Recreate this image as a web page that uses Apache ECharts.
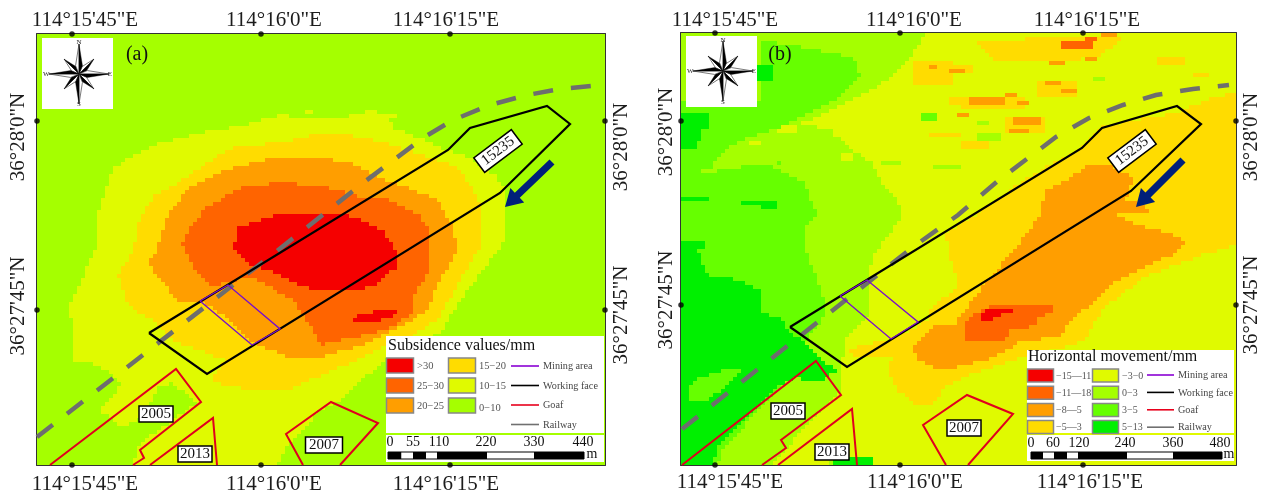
<!DOCTYPE html>
<html><head><meta charset="utf-8">
<style>html,body{margin:0;padding:0;background:#fff}#c{width:1266px;height:493px}</style>
<script src="https://cdn.jsdelivr.net/npm/echarts@6/dist/echarts.min.js"></script></head>
<body><div id="c"></div>
<script>
// Map units: 1 unit from the north-west corner of each map frame, y grows southward.
const lonLabels = ['114°15\'45"E','114°16\'0"E','114°16\'15"E'];
const latLabels = ['36°28\'0"N','36°27\'45"N'];
const aLonTicks = [35,224,413], aLatTicks = [87,276];
const bLonTicks = [34,219,402], bLatTicks = [88,272];
// Where the printed graticule captions sit along each side of the frames
const aLonCaptionsTop=[48,237,409], aLonCaptionsBottom=[48,237,409], aLatCaptionsLeft=[103,272], aLatCaptionsRight=[113,281];
const bLonCaptionsTop=[44,233,406], bLonCaptionsBottom=[49,234,409], bLatCaptionsLeft=[99,267], bLatCaptionsRight=[104,272];

// Class colours
const RED='#F50000',ORED='#FF6400',ORANGE='#FF9E00',YELLOW='#FFDC00',YG='#E0FA00',LIME='#A5FF00',GRN='#66FF00',DEEP='#00F000';

// Panel (a): subsidence class boundaries
const a10to15=[[58,216],[61,179],[75,136],[90,124],[126,108],[163,99],[203,92],[226,86],[246,81],[283,86],[308,83],[330,79],[353,83],[356,94],[383,104],[408,116],[430,123],[460,143],[466,153],[467,199],[466,209],[456,222],[436,249],[420,272],[403,299],[383,311],[350,326],[320,349],[303,366],[283,376],[266,396],[248,416],[241,431],[96,431],[103,409],[160,369],[136,349],[123,352],[100,389],[83,391],[63,376],[86,349],[76,342],[63,332],[38,326],[33,272]];
const a15to20=[[96,216],[103,183],[116,163],[150,143],[180,123],[196,114],[246,108],[283,99],[326,103],[363,113],[420,133],[430,146],[440,163],[446,183],[446,209],[435,226],[416,259],[400,286],[376,302],[349,312],[316,328],[283,342],[256,354],[213,356],[173,348],[188,326],[168,318],[140,309],[120,289],[91,272],[81,242]];
const a20to25=[[120,216],[130,183],[150,156],[190,136],[230,126],[283,123],[313,129],[340,143],[376,156],[401,166],[416,193],[420,216],[415,226],[403,246],[390,276],[376,286],[336,307],[283,324],[250,322],[216,309],[193,286],[163,267],[140,266],[110,229]];
const a25to30=[[143,216],[153,193],[170,173],[206,153],[240,149],[283,151],[323,163],[353,166],[380,179],[390,193],[393,212],[390,239],[375,266],[375,279],[356,292],[336,299],[283,311],[270,286],[256,266],[213,242],[176,252],[156,232],[145,209]];
const aOver30=[[196,216],[201,194],[230,183],[253,178],[283,179],[320,183],[346,196],[358,216],[361,232],[338,251],[316,257],[283,256],[263,252],[240,239],[210,229],[193,209]];
const aOver30Island=[[315,284],[326,279],[346,277],[348,275],[358,276],[361,281],[340,287],[316,289]];
const aYgPatches=[[225,85,8,6],[240,80,6,8],[270,76,6,5],[330,78,10,4],[345,82,14,4]];
const aFace=[[112,299],[411,116],[433,94],[510,72],[533,90],[463,159],[170,340],[112,299]];
const aMining=[[163,267],[191,251],[243,295],[215,311],[163,267]];
const aRailway=[[0,403],[240,217],[283,183],[326,149],[386,104],[416,86],[453,71],[490,61],[523,55],[563,51]];
const aGoafs=[[[13,431],[139,335],[164,368],[103,416],[107,424],[96,431]],[[113,431],[176,384],[180,431]],[[266,431],[249,400],[294,368],[341,389],[303,431]]];
const aBoxes=[['2005',119,380,34,16,0],['2013',158,420,34,16,0],['2007',287,411,37,16,0],['15235',461,117,47,18,-37]];
const aArrow=[[515,128],[468,173]];

// Panel (b): horizontal movement class boundaries
const bMinus3to0=[[246,0],[226,30],[202,50],[172,67],[146,80],[122,90],[146,94],[159,104],[172,117],[192,130],[199,147],[216,164],[222,184],[209,200],[196,217],[192,223],[186,247],[189,280],[166,303],[162,323],[159,357],[146,373],[119,400],[99,423],[92,432],[146,432],[152,425],[192,425],[192,432],[555,432],[555,0]];
const b3to5North=[[79,7],[119,14],[172,24],[179,44],[159,64],[126,80],[99,94],[59,107],[36,124],[29,137],[2,140],[0,67],[79,67]];
const b3to5West=[[0,140],[29,139],[84,130],[122,149],[136,180],[126,194],[124,217],[139,253],[146,280],[126,307],[119,333],[99,357],[72,383],[42,417],[37,432],[0,432]];
const b5to13=[[0,210],[16,213],[21,230],[29,243],[59,247],[82,260],[82,280],[102,287],[109,300],[126,310],[139,325],[156,338],[146,343],[119,343],[92,357],[59,390],[39,410],[32,432],[0,432]];
const b3to5Hole=[[6,357],[19,345],[42,337],[59,338],[42,357],[26,367],[9,370]];
const bMinus5to3=[[265,200],[292,184],[348,144],[402,114],[422,94],[452,87],[495,80],[532,64],[555,60],[555,210],[552,213],[518,223],[465,243],[425,273],[412,290],[405,307],[375,317],[345,323],[315,333],[285,343],[265,353],[252,373],[236,373],[216,357],[209,343],[209,327],[226,323],[172,322],[166,317],[219,303],[246,287],[252,273],[279,253],[269,227]];
const bMinus5to3North=[[298,10],[365,4],[445,2],[438,10],[415,24],[365,30],[315,27]];
const bMinus8to5=[[335,214],[297,260],[275,290],[265,293],[252,293],[232,313],[236,325],[259,338],[279,333],[308,327],[338,310],[378,303],[398,280],[412,270],[432,250],[458,237],[495,220],[503,210],[498,204],[452,190],[432,180],[468,179],[465,172],[445,167],[452,144],[428,132],[408,130],[388,147],[365,157],[358,184]];
const bMinus11to8=[[282,293],[295,280],[312,273],[338,273],[375,272],[372,277],[355,287],[355,293],[328,297],[325,307],[285,307]];
const bMinus15to11=[[300,283],[303,278],[318,277],[327,274],[337,275],[322,282],[312,287],[300,287]];
const bYellowGreenPatches=[[152,102,40,4],[136,92,20,4],[162,120,10,7],[69,107,12,4],[96,94,20,5]];
const bYellowPatches=[[282,64,63,13],[325,84,40,17],[358,47,40,17],[478,24,27,7],[512,42,17,4],[268,34,23,8],[232,30,40,24],[249,100,30,4],[269,64,10,7],[282,110,27,5]];
const bOrangePatches=[[268,37,17,4],[288,65,37,6],[325,59,10,5],[332,85,30,7],[327,95,22,4],[278,82,10,4],[368,29,18,4],[422,0,16,4],[380,57,17,4],[365,47,17,6],[338,69,10,5],[405,25,10,5],[249,33,6,4]];
const bRedOrangePatches=[[382,9,30,6],[404,3,12,4]];
const bLimePatches=[[297,100,24,8],[265,134,17,4],[412,44,14,4],[297,89,12,4],[252,134,27,4],[199,130,20,4],[72,397,20,14]];
const bGreenPatches=[[242,80,15,7],[46,140,4,4],[95,130,4,4]];
const bDeepPatches=[[2,80,26,16],[0,96,22,14],[2,110,14,6],[2,163,25,6],[59,167,36,6],[79,172,17,6],[2,207,22,10],[77,34,14,16],[152,425,40,7],[122,343,24,7]];
const bFace=[[109,294],[401,115],[421,95],[496,73],[520,91],[450,158],[166,334],[109,294]];
const bMining=[[159,263],[186,247],[237,289],[210,306],[159,263]];
const bRailway=[[1,396],[232,214],[277,182],[318,147],[375,104],[408,85],[442,72],[475,62],[512,56],[548,52]];
const bGoafs=[[[1,432],[135,328],[160,362],[100,407],[105,415],[81,432]],[[97,432],[171,376],[176,432]],[[265,432],[242,392],[286,362],[332,381],[287,432]]];
const bBoxes=[['2005',107,378,34,16,0],['2013',151,419,34,16,0],['2007',283,395,34,16,0],['15235',451,118,47,18,-37]];
const bArrow=[[502,127],[455,174]];

// Legends and scale bars
const aLegendTitle='Subsidence values/mm', bLegendTitle='Horizontal movement/mm';
const aClassLabels=['>30','25−30','20−25','15−20','10−15','0−10'];
const aClassColors=[RED,ORED,ORANGE,YELLOW,YG,LIME];
const bClassLabels=['−15—11','−11—18','−8—5','−5—3','−3−0','0−3','3−5','5−13'];
const bClassColors=[RED,ORED,ORANGE,YELLOW,YG,LIME,GRN,DEEP];
const lineLabels=['Mining area','Working face','Goaf','Railway'];
const lineColors=['#8A00D4','#000000','#E8001C','#707070'];
const aScaleLabels=['0','55','110','220','330','440'];
const bScaleLabels=['0','60','120','240','360','480'];

const SERIF='"Liberation Serif","Times New Roman",serif';
const CELL=4;
function inside(p,x,y){let c=false;for(let i=0,j=p.length-1;i<p.length;j=i++){if((p[i][1]>y)!==(p[j][1]>y)&&x<(p[j][0]-p[i][0])*(y-p[i][1])/(p[j][1]-p[i][1])+p[i][0])c=!c;}return c;}
function rasterize(w,h,base,layers){
  const runs=[];
  for(let r=0;r*CELL<h;r++){let start=0,cur=null;
    const cols=Math.ceil(w/CELL);
    for(let c=0;c<=cols;c++){
      let v=null;
      if(c<cols){v=base;const x=(c+.5)*CELL,y=(r+.5)*CELL;
        for(const L of layers){
          if(L.poly){if(inside(L.poly,x,y))v=L.color;}
          else for(const q of L.rects){if(x>=q[0]&&x<q[0]+q[2]&&y>=q[1]&&y<q[1]+q[3])v=L.color;}
        }}
      if(v!==cur){if(cur!==null)runs.push([start*CELL,r*CELL,(c-start)*CELL,cur]);start=c;cur=v;}
    }}
  return runs;
}
const aLayers=[{color:YG,rects:aYgPatches},{color:YG,poly:a10to15},{color:YELLOW,poly:a15to20},{color:ORANGE,poly:a20to25},{color:ORED,poly:a25to30},{color:RED,poly:aOver30},{color:RED,poly:aOver30Island}];
const bLayers=[{color:YG,poly:bMinus3to0},{color:YG,rects:bYellowGreenPatches},{color:GRN,poly:b3to5North},{color:GRN,poly:b3to5West},{color:DEEP,poly:b5to13},{color:GRN,poly:b3to5Hole},{color:DEEP,rects:bDeepPatches},{color:GRN,rects:bGreenPatches},{color:YELLOW,poly:bMinus5to3},{color:YELLOW,poly:bMinus5to3North},{color:YELLOW,rects:bYellowPatches},{color:LIME,rects:bLimePatches},{color:ORANGE,rects:bOrangePatches},{color:ORED,rects:bRedOrangePatches},{color:ORANGE,poly:bMinus8to5},{color:ORED,poly:bMinus11to8},{color:RED,poly:bMinus15to11}];

const panels=[
 {g:{left:37,top:34,width:568,height:431},lon:aLonTicks,lat:aLatTicks,cap:[aLonCaptionsTop,aLonCaptionsBottom,aLatCaptionsLeft,aLatCaptionsRight],mar:[3,9,8,6],runs:rasterize(568,431,LIME,aLayers),face:aFace,mining:aMining,rail:aRailway,goafs:aGoafs,boxes:aBoxes,arrow:aArrow},
 {g:{left:681,top:33,width:555,height:432},lon:bLonTicks,lat:bLatTicks,cap:[bLonCaptionsTop,bLonCaptionsBottom,bLatCaptionsLeft,bLatCaptionsRight],mar:[2,7,4,5],runs:rasterize(555,432,LIME,bLayers),face:bFace,mining:bMining,rail:bRailway,goafs:bGoafs,boxes:bBoxes,arrow:bArrow}
];
const xAxes=[],yAxes=[],series=[];
panels.forEach((P,i)=>{
  const W=P.g.width,H=P.g.height;
  const line={show:true,onZero:false,lineStyle:{color:'#333',width:2}};
  const lbl=(vals,labels,rot,m)=>({show:true,customValues:vals,rotate:rot,margin:m,color:'#1c1c1c',fontFamily:'Liberation Serif',fontSize:21,formatter:v=>labels[vals.indexOf(v)]});
  ['top','bottom'].forEach((pos,k)=>xAxes.push({gridIndex:i,type:'value',position:pos,min:0,max:W,axisLine:line,axisTick:{show:false},splitLine:{show:false},axisLabel:lbl(P.cap[k],lonLabels,0,P.mar[k])}));
  ['left','right'].forEach((pos,k)=>yAxes.push({gridIndex:i,type:'value',position:pos,inverse:true,min:0,max:H,axisLine:line,axisTick:{show:false},splitLine:{show:false},axisLabel:lbl(P.cap[2+k],latLabels,90,P.mar[2+k])}));
  const xi=i*2,yi=i*2;
  const ax={xAxisIndex:xi,yAxisIndex:yi};
  series.push(Object.assign({type:'custom',z:1,silent:true,clip:true,progressive:0,animation:false,dimensions:['x','y','len','row'],encode:{x:0,y:1},data:P.runs.map(r=>[r[0],r[1],r[2],0]),
    renderItem:(p,api)=>{const a=api.coord([api.value(0),api.value(1)]),b=api.coord([api.value(0)+api.value(2),api.value(1)+CELL]);
      const x=Math.round(a[0]),y=Math.round(a[1]);
      return{type:'rect',shape:{x,y,width:Math.round(b[0])-x+.5,height:Math.round(b[1])-y+.5},style:{fill:P.runs[p.dataIndex][3]}};}},ax));
  const ln=(data,color,width,z,type)=>Object.assign({type:'line',data,z,symbol:'none',silent:true,animation:false,clip:true,lineStyle:{color,width,type:type||'solid',join:'miter'}},ax);
  series.push(ln(P.rail,'#6E6E6E',4.5,3,[20,18]));
  P.goafs.forEach(g=>series.push(ln(g,'#E0001E',2,4)));
  series.push(ln(P.face,'#000',2.2,5));
  series.push(ln(P.mining,'#7A10C8',1.4,6));
  series.push(Object.assign({type:'custom',z:7,silent:true,animation:false,clip:false,encode:{x:0,y:1},data:[[P.arrow[0][0],P.arrow[0][1],P.arrow[1][0],P.arrow[1][1]]],
    renderItem:(p,api)=>{const t=api.coord([api.value(0),api.value(1)]),h=api.coord([api.value(2),api.value(3)]);
      const dx=h[0]-t[0],dy=h[1]-t[1],L=Math.hypot(dx,dy),ux=dx/L,uy=dy/L,nx=-uy,ny=ux,bx=h[0]-ux*17,by=h[1]-uy*17;
      return{type:'polygon',shape:{points:[[t[0]+nx*3.6,t[1]+ny*3.6],[bx+nx*3.6,by+ny*3.6],[bx+nx*10,by+ny*10],h,[bx-nx*10,by-ny*10],[bx-nx*3.6,by-ny*3.6],[t[0]-nx*3.6,t[1]-ny*3.6]]},style:{fill:'#00207A'}};}},ax));
  series.push(Object.assign({type:'custom',z:8,silent:true,animation:false,clip:false,encode:{x:0,y:1},data:P.boxes.map(b=>[b[1],b[2]]),
    renderItem:(p,api)=>{const b=P.boxes[p.dataIndex],c=api.coord([b[1],b[2]]);
      return{type:'group',x:c[0],y:c[1],rotation:-b[5]*Math.PI/180,children:[
        {type:'rect',shape:{x:-b[3]/2,y:-b[4]/2,width:b[3],height:b[4]},style:{fill:'#fff',stroke:'#000',lineWidth:1.5}},
        {type:'text',style:{text:b[0],x:0,y:0,align:'center',verticalAlign:'middle',font:'15px '+SERIF,fill:'#111'}}]};}},ax));
  const dots=[];P.lon.forEach(v=>{dots.push([v,0],[v,H]);});P.lat.forEach(v=>{dots.push([0,v],[W,v]);});
  series.push(Object.assign({type:'scatter',data:dots,symbolSize:5.5,z:9,clip:false,silent:true,animation:false,itemStyle:{color:'#000'}},ax));
  series.push({type:'line',data:[],xAxisIndex:xi+1,yAxisIndex:yi+1,silent:true});
});

const G=[];
function txt(text,x,y,size,fill,align,va){G.push({type:'text',x,y,z:20,silent:true,style:{text,font:size+'px '+SERIF,fill:fill||'#111',align:align||'left',verticalAlign:va||'middle'}});}
function rect(x,y,w,h,fill,stroke,lw){G.push({type:'rect',z:19,silent:true,shape:{x,y,width:w,height:h},style:{fill,stroke:stroke||null,lineWidth:lw||0}});}
function compass(x0,y0,size,cx,cy){
  rect(x0,y0,size,size,'#fff');
  const order=[1,3,5,7,0,2,4,6];
  order.forEach(k=>{
    const a=k*Math.PI/4-Math.PI/2,R=k%2?21:30,r=k%2?8:9,pt=(an,ra)=>[cx+Math.cos(an)*ra,cy+Math.sin(an)*ra];
    const tip=pt(a,R),s1=pt(a+Math.PI/8,r),s2=pt(a-Math.PI/8,r);
    G.push({type:'polygon',z:20,silent:true,shape:{points:[[cx,cy],tip,s2]},style:{fill:'#fff',stroke:'#222',lineWidth:.6}});
    G.push({type:'polygon',z:20,silent:true,shape:{points:[[cx,cy],tip,s1]},style:{fill:'#000',stroke:'#000',lineWidth:.4}});
  });
  txt('N',cx,y0+1,7,'#222','center','top');txt('S',cx,y0+size-1,7,'#222','center','bottom');
  txt('W',x0+1,cy,7,'#222','left');txt('E',x0+size-1,cy,7,'#222','right');
}
compass(42,38,71,79,74);compass(686,36,71,723,71);
txt('(a)',137,55,20,'#111','center');txt('(b)',780,55,20,'#111','center');

rect(386,336,218,97,'#fff');rect(386,435,218,27,'#fff');
txt(aLegendTitle,388,346,16);
aClassLabels.forEach((t,i)=>{const col=i<3?0:1,row=i%3,x=386+col*62,y=358+row*20;
  rect(x+.5,y,27,15,aClassColors[i],'#888',1.5);
  txt(t,x+31,y+8+(i===5?2:0),10.5,'#555');});
lineLabels.forEach((t,i)=>{const y=366+i*19.5;
  G.push({type:'line',z:20,silent:true,shape:{x1:511,y1:y,x2:539,y2:y},style:{stroke:lineColors[i],lineWidth:1.6}});
  txt(t,543,y+.5,10.2,'#444');});
rect(1027,350,207,83,'#fff');rect(1027,435,207,26,'#fff');
txt(bLegendTitle,1028,357,16);
bClassLabels.forEach((t,i)=>{const col=i<4?0:1,row=i%4,x=col?1092:1027,y=369+row*17.2;
  rect(x+.5,y,26,13,bClassColors[i],'#888',1.5);
  txt(t,x+(col?30:29),y+7,10,'#555');});
lineLabels.forEach((t,i)=>{const y=375+i*17.4;
  G.push({type:'line',z:20,silent:true,shape:{x1:1147,y1:y,x2:1174,y2:y},style:{stroke:lineColors[i],lineWidth:1.6}});
  txt(t,1178,y+.5,10.2,'#444');});
function scale(labels,lx,ly,edges,by,mx){
  labels.forEach((t,i)=>txt(t,lx[i],ly,14,'#111','center'));
  for(let i=0;i<edges.length-1;i++)rect(edges[i],by,edges[i+1]-edges[i],7,i%2?'#fff':'#000');
  G.push({type:'rect',z:20,silent:true,shape:{x:edges[0],y:by,width:edges[edges.length-1]-edges[0],height:7},style:{fill:'none',stroke:'#000',lineWidth:1}});
  txt('m',mx,by+2,14,'#111','center');
}
scale(aScaleLabels,[390,413,439,486,534,583],442,[388,401.5,413,426,437,487,534,584],452,592);
scale(bScaleLabels,[1031,1053,1079,1125,1173,1220],443,[1031,1043,1054,1067,1078,1127,1173,1222],452,1229);

const chart=echarts.init(document.getElementById('c'),null,{renderer:'canvas'});
chart.setOption({backgroundColor:'#fff',animation:false,tooltip:{show:false},
  grid:panels.map(P=>Object.assign({containLabel:false,show:false,outerBoundsMode:'none'},P.g)),
  xAxis:xAxes,yAxis:yAxes,series,graphic:{elements:G}});
</script></body></html>
